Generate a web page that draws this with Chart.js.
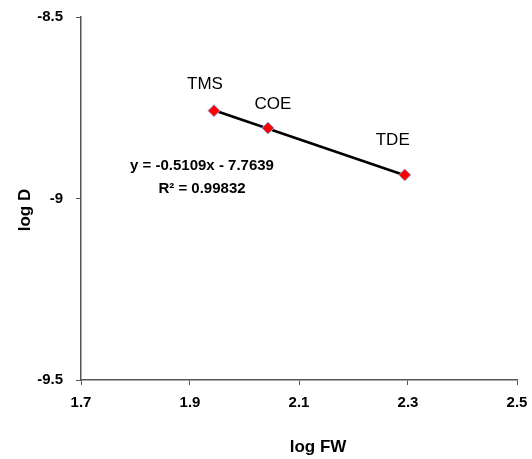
<!DOCTYPE html>
<html>
<head>
<meta charset="utf-8">
<script src="https://cdn.jsdelivr.net/npm/chart.js@4"></script>
<style>
  html, body { margin: 0; padding: 0; background: #fff; }
  #wrap { width: 532px; height: 459px; }
</style>
</head>
<body>
<div id="wrap"><canvas id="grafico" width="532" height="459"></canvas></div>
<script>
// dados
const nomes = ['TMS', 'COE', 'TDE'];
const logFW = [1.944, 2.043, 2.294];
const logD = [-8.758, -8.806, -8.935];

// linha de tendência (extremos)
const tendX = [1.944, 2.294];
const tendY = [-8.757, -8.936];

const ticksX = [1.7, 1.9, 2.1, 2.3, 2.5];
const ticksY = [-9.5, -9, -8.5];

const equacao = ['y = -0.5109x - 7.7639', 'R² = 0.99832'];

const corEixo = '#555555';
const fonte = '"Liberation Sans", Arial, sans-serif';

// deslocamento dos rótulos em relação ao ponto (px)
const deslocRotulos = [[-9, -26], [5, -24], [-12, -35]];

const rotulos = {
  id: 'rotulos',
  afterDatasetsDraw(chart) {
    const { ctx, scales: { x, y } } = chart;
    ctx.save();
    ctx.fillStyle = '#000';
    ctx.textAlign = 'center';
    ctx.textBaseline = 'middle';

    // nomes dos pontos
    ctx.font = '17px ' + fonte;
    nomes.forEach((nome, i) => {
      const px = x.getPixelForValue(logFW[i]) + deslocRotulos[i][0];
      const py = y.getPixelForValue(logD[i]) + deslocRotulos[i][1];
      ctx.fillText(nome, px, py);
    });

    // equação da reta
    ctx.font = 'bold 15px ' + fonte;
    const ex = x.getPixelForValue(1.922);
    ctx.fillText(equacao[0], ex, y.getPixelForValue(-8.910));
    ctx.fillText(equacao[1], ex, y.getPixelForValue(-8.974));

    // títulos dos eixos
    ctx.font = 'bold 17px ' + fonte;
    ctx.fillText('log FW', 318, 447);
    ctx.translate(25, 210);
    ctx.rotate(-Math.PI / 2);
    ctx.fillText('log D', 0, 0);
    ctx.restore();
  }
};

const ctx = document.getElementById('grafico').getContext('2d');
new Chart(ctx, {
  type: 'scatter',
  data: {
    datasets: [
      {
        label: 'dados',
        data: logFW.map((v, i) => ({ x: v, y: logD[i] })),
        pointStyle: 'rectRot',
        pointRadius: 6,
        pointBackgroundColor: '#FF0000',
        pointBorderColor: '#8FA8D8',
        pointBorderWidth: 1,
        showLine: false
      },
      {
        label: 'tendência',
        data: tendX.map((v, i) => ({ x: v, y: tendY[i] })),
        showLine: true,
        borderColor: '#000000',
        borderWidth: 2.5,
        pointRadius: 0
      }
    ]
  },
  options: {
    responsive: false,
    animation: false,
    layout: { padding: { top: 17, right: 15, left: 0, bottom: 0 } },
    plugins: {
      legend: { display: false },
      tooltip: { enabled: false }
    },
    scales: {
      x: {
        type: 'linear',
        min: 1.7,
        max: 2.5,
        afterBuildTicks: s => { s.ticks = ticksX.map(v => ({ value: v })); },
        afterFit: s => { s.height = 79; s.paddingLeft = 0; s.paddingRight = 0; },
        ticks: {
          color: '#000',
          padding: 9,
          font: { family: fonte, size: 15, weight: 'bold' },
          callback: v => v.toFixed(1)
        },
        grid: { drawOnChartArea: false, drawTicks: true, tickLength: 5, color: corEixo },
        border: { color: corEixo, width: 1.5 }
      },
      y: {
        type: 'linear',
        min: -9.5,
        max: -8.5,
        afterBuildTicks: s => { s.ticks = ticksY.map(v => ({ value: v })); },
        afterFit: s => { s.width = 81; s.paddingTop = 0; s.paddingBottom = 0; },
        ticks: {
          color: '#000',
          padding: 13,
          font: { family: fonte, size: 15, weight: 'bold' },
          callback: v => String(v)
        },
        grid: { drawOnChartArea: false, drawTicks: true, tickLength: 5, color: corEixo },
        border: { color: corEixo, width: 1.5 }
      }
    }
  },
  plugins: [rotulos]
});
</script>
</body>
</html>
